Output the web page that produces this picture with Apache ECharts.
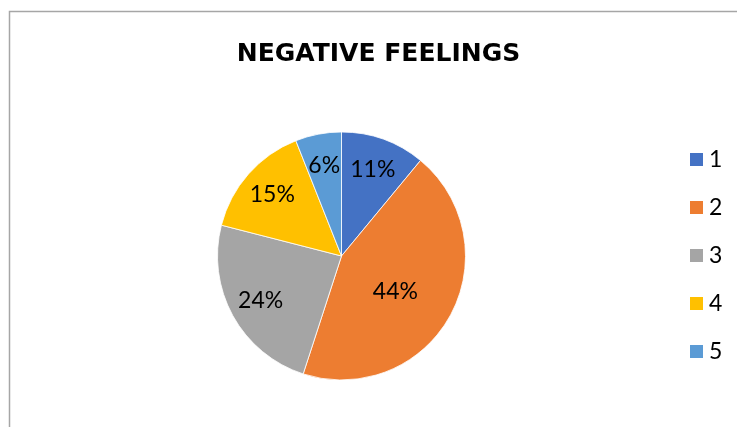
<!DOCTYPE html>
<html><head><meta charset="utf-8">
<script src="https://cdn.jsdelivr.net/npm/echarts@6/dist/echarts.min.js"></script>
<style>html,body{margin:0;padding:0;background:#fff}#c{width:737px;height:427px}</style>
</head><body><div id="c"></div>
<script>
const categories = ['1', '2', '3', '4', '5'];
const values = [11, 44, 24, 15, 6];
const colors = ['#4472C4', '#ED7D31', '#A5A5A5', '#FFC000', '#5B9BD5'];
const titleText = 'NEGATIVE FEELINGS';

const data = categories.map((c, i) => ({ name: c, value: values[i] }));
const labelData = categories.map((c, i) => {
  const d = { name: c, value: values[i] };
  if (i === 1) d.label = { offset: [-27, -9] };
  return d;
});
const chart = echarts.init(document.getElementById('c'), null, { renderer: 'canvas' });
const R = 124;
chart.setOption({
  animation: false,
  color: colors,
  title: {
    text: titleText, left: 378.5, top: 42, textAlign: 'center', padding: 0,
    textStyle: { fontFamily: 'DejaVu Sans', fontWeight: 'bold', fontSize: 25, color: '#000' }
  },
  legend: {
    orient: 'vertical', left: 688, top: 148, itemGap: 25, padding: 0,
    itemWidth: 15, itemHeight: 15, icon: 'rect', data: categories,
    textStyle: { fontFamily: 'Lato', fontSize: 23, color: '#000', padding: 0 }
  },
  graphic: [{
    type: 'rect', shape: { x: 9.5, y: 11.5, width: 800, height: 500 },
    style: { fill: 'none', stroke: '#A6A6A6', lineWidth: 1.5 }, silent: true, z: -1
  }],
  series: [{
    type: 'pie', center: [341.5, 256], radius: [0, R],
    startAngle: 90, clockwise: true, data: data,
    label: { show: false }, labelLine: { show: false },
    itemStyle: { borderColor: '#fff', borderWidth: 0.8 }
  }, {
    type: 'pie', center: [341.5, 256], radius: [0.44 * R, R],
    startAngle: 90, clockwise: true, data: labelData, silent: true,
    itemStyle: { color: 'rgba(0,0,0,0)', borderWidth: 0 },
    label: { show: true, position: 'inside', formatter: '{d}%', fontFamily: 'Lato', fontSize: 23, color: '#000' },
    labelLine: { show: false }, emphasis: { disabled: true }
  }]
});
</script></body></html>
